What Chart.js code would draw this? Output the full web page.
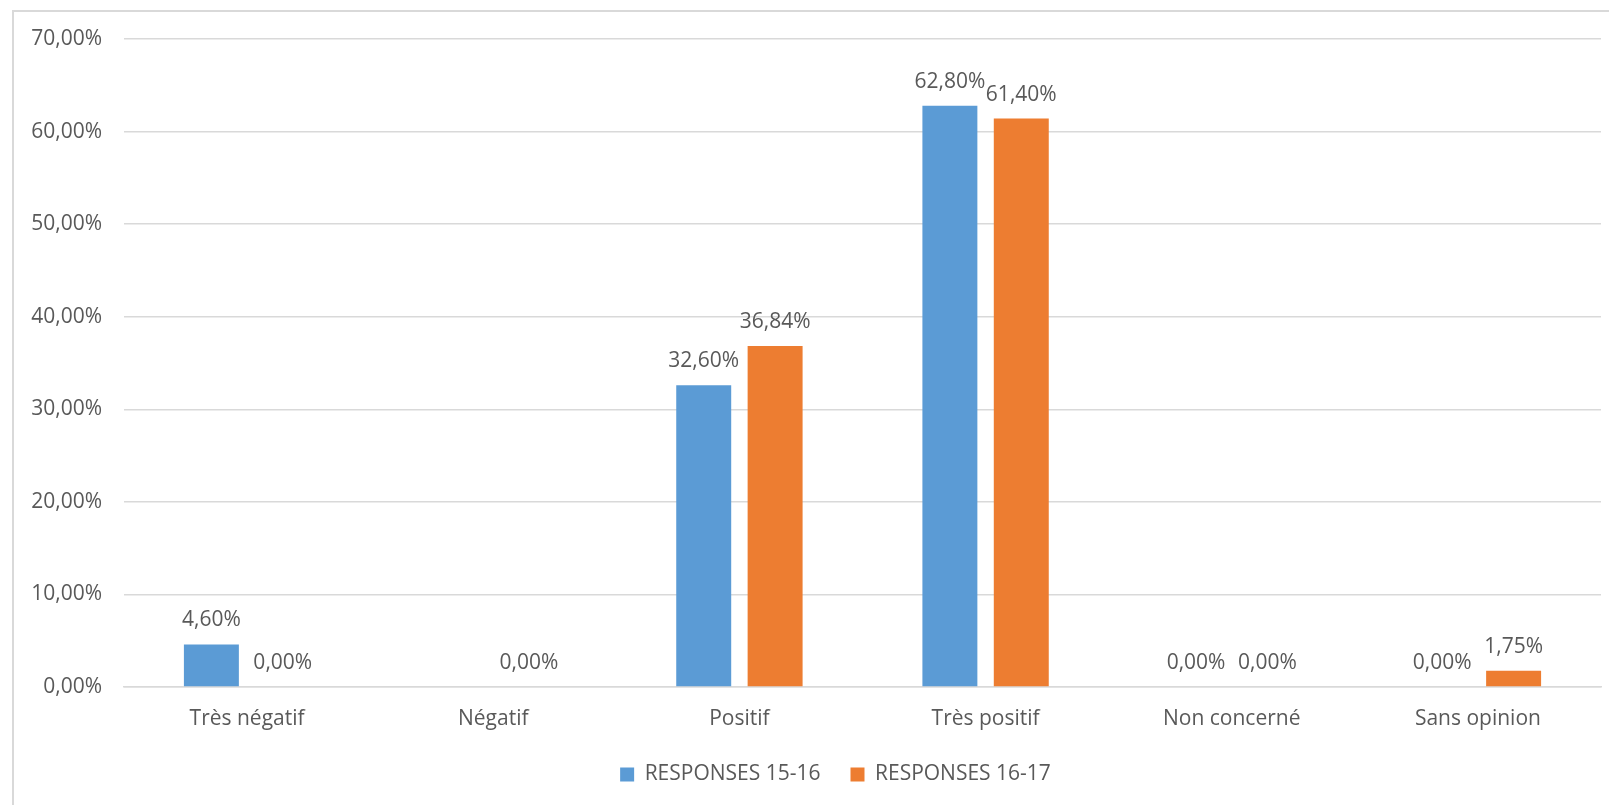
<!DOCTYPE html>
<html lang="fr">
<head>
<meta charset="UTF-8" />
<title>Réponses</title>
<script src="https://cdn.jsdelivr.net/npm/chart.js@4.4.1/dist/chart.umd.min.js"></script>
<style>
  html, body { margin: 0; padding: 0; background: #fff; }
  #wrap { width: 1609px; height: 805px; position: relative; }
</style>
</head>
<body>
<div id="wrap"><canvas id="chart" width="1609" height="805"></canvas></div>
<script>
// categories and series
const categories = ['Très négatif', 'Négatif', 'Positif', 'Très positif', 'Non concerné', 'Sans opinion'];
const responses1516 = [4.60, null, 32.60, 62.80, 0.00, 0.00];
const responses1617 = [0.00, 0.00, 36.84, 61.40, 0.00, 1.75];
const seriesNames = ['RESPONSES 15-16', 'RESPONSES 16-17'];
const yTicks = [0, 10, 20, 30, 40, 50, 60, 70];

const txtColor = '#595959';
const fontFamily = '"Open Sans", "Liberation Sans", sans-serif';

function pct(v) {
  return v.toFixed(2).replace('.', ',') + '%';
}

// frame lines (left + top) like the Excel chart border
const framePlugin = {
  id: 'frame',
  beforeDraw(chart) {
    const ctx = chart.ctx;
    ctx.save();
    ctx.fillStyle = '#fff';
    ctx.fillRect(0, 0, chart.width, chart.height);
    ctx.strokeStyle = '#d9d9d9';
    ctx.lineWidth = 2;
    ctx.beginPath();
    ctx.moveTo(13, chart.height);
    ctx.lineTo(13, 11);
    ctx.lineTo(chart.width, 11);
    ctx.stroke();
    ctx.restore();
  }
};

// the legend in the original sits a bit right of centre
const legendShift = {
  id: 'legendShift',
  afterLayout(chart) {
    if (chart.legend) {
      chart.legend.left += 35;
      chart.legend.right += 35;
    }
  }
};

// value labels above the bars
const labelPlugin = {
  id: 'valueLabels',
  afterDatasetsDraw(chart) {
    const ctx = chart.ctx;
    ctx.save();
    ctx.font = '21px ' + fontFamily;
    ctx.fillStyle = txtColor;
    ctx.textAlign = 'center';
    ctx.textBaseline = 'alphabetic';
    chart.data.datasets.forEach((ds, i) => {
      const meta = chart.getDatasetMeta(i);
      meta.data.forEach((bar, j) => {
        const v = ds.data[j];
        if (v === null || v === undefined) return;
        ctx.fillText(pct(v), bar.x, bar.y - 18);
      });
    });
    ctx.restore();
  }
};

const ctx = document.getElementById('chart').getContext('2d');
new Chart(ctx, {
  type: 'bar',
  data: {
    labels: categories,
    datasets: [
      {
        label: seriesNames[0],
        data: responses1516,
        backgroundColor: '#5B9BD5',
        categoryPercentage: 0.58,
        barPercentage: 0.77
      },
      {
        label: seriesNames[1],
        data: responses1617,
        backgroundColor: '#ED7D31',
        categoryPercentage: 0.58,
        barPercentage: 0.77
      }
    ]
  },
  options: {
    responsive: false,
    animation: false,
    layout: { padding: { left: 0, right: 8, top: 39, bottom: 10 } },
    plugins: {
      legend: {
        position: 'bottom',
        labels: {
          color: txtColor,
          font: { family: fontFamily, size: 21 },
          boxWidth: 14,
          boxHeight: 14,
          padding: 30
        }
      },
      tooltip: { enabled: false }
    },
    scales: {
      x: {
        afterFit(scale) { scale.height = 47; },
        grid: { display: false, drawTicks: false },
        border: { color: '#d9d9d9', width: 1.5 },
        ticks: {
          color: txtColor,
          font: { family: fontFamily, size: 21 },
          padding: 19
        }
      },
      y: {
        min: 0,
        max: 70,
        afterFit(scale) { scale.width = 124; },
        afterBuildTicks(scale) { scale.ticks = yTicks.map(v => ({ value: v })); },
        grid: { color: '#d9d9d9', lineWidth: 1.5, drawTicks: false },
        border: { display: false },
        ticks: {
          color: txtColor,
          font: { family: fontFamily, size: 21 },
          padding: 22,
          callback: v => pct(v)
        }
      }
    }
  },
  plugins: [framePlugin, legendShift, labelPlugin]
});
</script>
</body>
</html>
